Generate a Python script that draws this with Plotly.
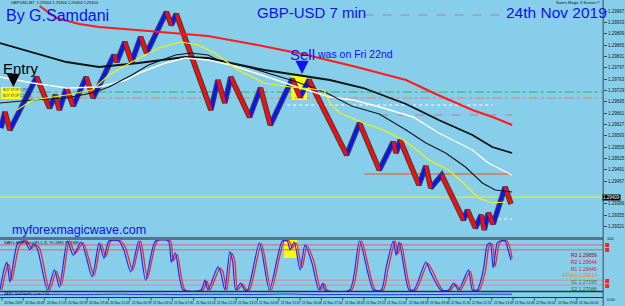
import plotly.graph_objects as go

W, H = 625, 306
def X(p): return p / W
def Y(p): return 1 - p / H

# ---------------- data ----------------
renko_bar = [1,5,10,37,50,56,60,67,74,87,94,115,118,126,133,142,148,168,173,178,
             213,220,227,233,252,263,273,295,303,312,350,363,383,397,400,404,423,430,435,446,
             468,472,480,486,489,493,498,510,516]
renko_price = [1.29616,1.29664,1.29610,1.29769,1.29676,1.29715,1.29670,1.29736,1.29682,1.29769,
               1.29706,1.29835,1.29814,1.29874,1.29814,1.29889,1.29841,1.29964,1.29925,1.29958,
               1.29670,1.29760,1.29691,1.29769,1.29649,1.29736,1.29625,1.29763,1.29709,1.29760,
               1.29535,1.29631,1.29490,1.29574,1.29541,1.29580,1.29445,1.29502,1.29436,1.29475,
               1.29340,1.29370,1.29316,1.29355,1.29310,1.29361,1.29328,1.29439,1.29388]

ma_red_bar = [40,57,80,100,150,210,260,310,360,410,440,477,500,517]
ma_red = [1.29982,1.29946,1.29928,1.29919,1.29907,1.29892,1.29865,1.29835,1.29799,1.29760,
          1.29718,1.29670,1.29646,1.29625]

ma_black_bar = [0,33,67,100,140,187,210,233,267,300,333,367,410,443,477,497,517]
ma_black = [1.29871,1.29844,1.29814,1.29799,1.29811,1.29829,1.29826,1.29811,1.29790,1.29775,
            1.29760,1.29736,1.29688,1.29640,1.29595,1.29559,1.29541]

ma_thin_bar = [0,33,67,93,110,133,150,177,193,210,220,250,300,330,355,383,410,430,450,470,487,500,517]
ma_thin = [1.29691,1.29700,1.29706,1.29721,1.29739,1.29775,1.29805,1.29835,1.29841,1.29835,
           1.29820,1.29799,1.29754,1.29721,1.29682,1.29658,1.29610,1.29571,1.29541,1.29499,
           1.29451,1.29430,1.29424]

ma_white_bar = [0,33,67,100,127,143,167,187,210,233,267,300,333,357,387,417,443,477,493,517]
ma_white = [1.29769,1.29751,1.29736,1.29739,1.29760,1.29784,1.29811,1.29826,1.29820,1.29805,
            1.29772,1.29739,1.29709,1.29700,1.29676,1.29649,1.29601,1.29550,1.29511,1.29475]

ma_yellow_bar = [17,33,67,93,110,133,160,183,200,217,240,267,293,327,333,343,367,387,407,417,
                 433,453,470,483,497,510]
ma_yellow = [1.29670,1.29700,1.29715,1.29730,1.29775,1.29814,1.29856,1.29874,1.29865,1.29841,
             1.29790,1.29751,1.29739,1.29730,1.29691,1.29661,1.29631,1.29610,1.29580,1.29559,
             1.29520,1.29490,1.29445,1.29406,1.29391,1.29394]

# horizontal levels: price, first bar, last bar
level_price = [1.29409, 1.29478, 1.29724, 1.29706, 1.29955, 1.29655, 1.29685, 1.29343]
level_from  = [0, 368, 25, 25, 368, 383, 290, 497]
level_to    = [609, 517, 609, 609, 510, 517, 497, 517]

price_ticks = [1.29967,1.29933,1.29899,1.29865,1.29831,1.29797,1.29763,1.29729,1.29695,1.29661,
               1.29627,1.29593,1.29559,1.29525,1.29491,1.29457,1.29389,1.29355,1.29321]
last_price = 1.29409

stoch_bar = [0,4,7,10,18,25,30,34,38,48,55,60,68,74,82,93,100,105,110,120,
             125,132,140,147,157,170,173,177,185,203,207,210,220,223,227,232,235,238,243,247,
             250,262,272,285,290,293,297,303,308,315,322,326,328,353,363,377,385,390,397,400,
             403,413,418,430,435,445,453,458,463,473,477,482,488,492,495,498,502,505,510,513,516]
stoch_main = [0,41,57,16,96,100,82,94,82,0,41,6,100,71,98,27,96,65,100,100,
              82,37,100,20,100,100,57,76,0,0,20,0,47,35,0,78,57,0,14,0,
              0,96,0,100,100,82,98,41,92,55,0,14,0,0,100,0,0,47,100,71,
              98,0,0,57,35,0,0,14,0,41,0,0,41,92,96,45,96,100,100,82,61]
signal_bar = [2,6,9,12,20,27,32,36,40,50,57,62,70,76,84,95,102,107,112,122,
              127,134,142,149,159,172,175,179,187,205,209,212,222,225,229,234,237,240,245,249,
              252,264,274,287,292,295,299,305,310,317,324,328,330,355,365,379,387,392,399,402,
              405,415,420,432,437,447,455,460,465,475,479,484,490,494,497,500,504,507,512,515,517]
stoch_signal = [0,38,52,20,92,100,85,92,85,0,38,10,100,75,96,30,94,68,100,100,
                85,40,100,24,100,100,60,72,0,0,18,0,44,38,0,75,60,0,12,0,
                0,94,0,100,100,85,96,45,90,58,0,12,0,0,100,0,0,44,100,74,
                96,0,0,54,38,0,0,12,0,38,0,0,38,90,94,48,94,100,100,85,65]
stoch_levels = [92, 82, 20, 10]

depth_bar = [0,15,30,45,60,80,100,120,140,160,180,200,230,260,290,320,350,380,410,440,470,500,517]
depth_val = [0.35,0.45,0.55,0.5,0.6,0.45,0.55,0.65,0.5,0.6,0.45,0.55,0.6,0.5,0.7,0.45,0.5,0.4,
             0.45,0.5,0.6,0.65,0.6]

time_labels = ["20 Nov 2019","20 Nov 16:09","20 Nov 17:23","20 Nov 18:39","20 Nov 19:40",
               "20 Nov 21:03","21 Nov 00:39","21 Nov 03:50","21 Nov 07:45","21 Nov 10:53",
               "21 Nov 12:29","21 Nov 13:23","21 Nov 14:09","21 Nov 15:07","21 Nov 16:08",
               "21 Nov 17:00","21 Nov 18:09","21 Nov 19:23","21 Nov 21:05","22 Nov 08:39",
               "22 Nov 09:46","22 Nov 11:30","22 Nov 12:35","22 Nov 13:49","22 Nov 14:46",
               "22 Nov 16:03","22 Nov 19:08","25 Nov 00:02"]

pivot_text = ["R3 1.29859","R2 1.29644","R1 1.29446","PPoint 1.29314","S1 1.27195","S2 1.27088"]
pivot_color = ["#8b1010","#c8184c","#dd2040","#ff8000","#1e8a1e","#0a7a0a"]

# ---------------- figure ----------------
FONT = "Liberation Sans, Arial, sans-serif"
fig = go.Figure()

def line(xs, ys, color, width, dash="solid", xa="x", ya="y", shape="linear"):
    ln = dict(color=color, width=width, dash=dash, shape=shape)
    if shape == "spline":
        ln["smoothing"] = 0.7
    fig.add_trace(go.Scatter(x=xs, y=ys, mode="lines", xaxis=xa, yaxis=ya,
                             line=ln, hoverinfo="skip"))

# renko path: up legs blue, down legs red
up_x, up_y, dn_x, dn_y = [], [], [], []
for i in range(len(renko_bar) - 1):
    seg_x = [renko_bar[i], renko_bar[i + 1], None]
    seg_y = [renko_price[i], renko_price[i + 1], None]
    if renko_price[i + 1] > renko_price[i]:
        up_x += seg_x; up_y += seg_y
    else:
        dn_x += seg_x; dn_y += seg_y
line(renko_bar, renko_price, "#404040", 5.5)
line(up_x, up_y, "#0a14ff", 3.2)
line(dn_x, dn_y, "#ff0a0a", 3.2)

# moving averages
line(ma_red_bar, ma_red, "#ff1a1a", 2)
line(ma_black_bar, ma_black, "#101010", 1.8)
line(ma_white_bar, ma_white, "#ffffff", 1.4)
line(ma_thin_bar, ma_thin, "#151515", 1.1)
line(ma_yellow_bar, ma_yellow, "#f4f400", 1.1)

# oscillator
line(signal_bar, stoch_signal, "#ff2020", 1.3, xa="x2", ya="y2", shape="spline")
line(stoch_bar, stoch_main, "#1a2aff", 1.2, xa="x2", ya="y2", shape="spline")
line(depth_bar, depth_val, "#1a2aff", 1.0, xa="x3", ya="y3", shape="spline")

shapes = []
# highlight boxes (below traces)
shapes.append(dict(type="rect", xref="paper", yref="paper", x0=X(294), x1=X(310), y0=Y(100), y1=Y(76),
                   fillcolor="#ffff00", line=dict(width=0), layer="below"))
shapes.append(dict(type="rect", xref="paper", yref="paper", x0=X(287), x1=X(300), y0=Y(258), y1=Y(240),
                   fillcolor="#ffff00", line=dict(width=0), layer="below"))

# horizontal levels on main chart
level_style = [("#f0f030", 1.2, "solid"), ("#ff4a10", 1.2, "solid"), ("#3cb050", 1, "dashdot"),
               ("#ff7a4a", 1, "dashdot"), ("#c07890", 1, "dash"), ("#c07890", 1, "dash"),
               ("#ffffff", 1, "dot"), ("#ffffff", 1, "dot")]
for p, a, b, st in zip(level_price, level_from, level_to, level_style):
    shapes.append(dict(type="line", xref="x", yref="y", x0=a, x1=b, y0=p, y1=p,
                       line=dict(color=st[0], width=st[1], dash=st[2]), layer="below"))

# oscillator levels
for lv, col in zip(stoch_levels, ["#d86070", "#d86070", "#c890a0", "#c890a0"]):
    shapes.append(dict(type="line", xref="paper", yref="y2", x0=0, x1=X(609), y0=lv, y1=lv,
                       line=dict(color=col, width=1), layer="below"))

# panel separators and axis line
shapes.append(dict(type="line", xref="paper", yref="paper", x0=0, x1=X(609), y0=Y(238.5), y1=Y(238.5),
                   line=dict(color="#55758c", width=3)))
shapes.append(dict(type="line", xref="paper", yref="paper", x0=0, x1=X(609), y0=Y(291.5), y1=Y(291.5),
                   line=dict(color="#25343e", width=1.5)))
shapes.append(dict(type="line", xref="paper", yref="paper", x0=0, x1=X(609), y0=Y(297.5), y1=Y(297.5),
                   line=dict(color="#25343e", width=1)))
shapes.append(dict(type="line", xref="paper", yref="paper", x0=X(609), x1=X(609), y0=0, y1=1,
                   line=dict(color="#3a4a55", width=1)))
# Entry label boxes
shapes.append(dict(type="rect", xref="paper", yref="paper", x0=X(1), x1=X(21), y0=Y(93), y1=Y(87),
                   fillcolor="#ffff20", line=dict(width=0)))
shapes.append(dict(type="rect", xref="paper", yref="paper", x0=X(1), x1=X(21), y0=Y(99), y1=Y(93.5),
                   fillcolor="#ffff20", line=dict(width=0)))
# red markers on right axis
for yy in [245, 250, 281, 286]:
    shapes.append(dict(type="rect", xref="paper", yref="paper", x0=X(611), x1=X(615), y0=Y(yy + 2), y1=Y(yy - 2),
                       fillcolor="#ff2020", line=dict(width=0)))
# time axis tick marks
for i in range(len(time_labels)):
    xx = 2 + i * 21.5
    shapes.append(dict(type="line", xref="paper", yref="paper", x0=X(xx), x1=X(xx), y0=Y(298), y1=Y(300.5),
                       line=dict(color="#25343e", width=0.8)))

ann = []
def txt(s, x, y, size, color, anchor="left", bg=None, yanchor="middle"):
    d = dict(text=s, x=X(x), y=Y(y), xref="paper", yref="paper", showarrow=False,
             xanchor=anchor, yanchor=yanchor, font=dict(family=FONT, size=size, color=color),
             borderpad=0)
    if bg:
        d["bgcolor"] = bg
    ann.append(d)

txt("By G.Samdani", 5, 15, 16, "#1010f0")
txt("GBP-USD 7 min", 258, 13, 15, "#1010f0")
txt("24th Nov 2019", 510, 13, 15.5, "#1010f0")
txt("Sell", 292, 54, 15, "#1010f0")
txt("was on Fri 22nd", 319, 54, 10.5, "#1010f0")
txt("Entry", 2, 69, 15, "#000000")
txt("myforexmagicwave.com", 11, 230, 12.5, "#1010f0")
txt("GBPUSD,M7  1.29404 1.29404 1.29404 1.29404", 10, 3, 4, "#101010")
txt("Sam's Magic 3 Screen \u00a9", 607, 3, 4, "#101010", anchor="right")
txt("BUY STOP 1.29724", 2, 90, 3.2, "#303030")
txt("BUY STOP 1.29706", 2, 96, 3.2, "#303030")
txt("SAR's HullCross(85,1,3)  91.1885 91.1885", 3, 242.5, 4, "#101010")
txt("SAR's JoinDepth(...)  mi 7.64", 3, 293.5, 3.5, "#101010")
txt("1.29409", 617, 197, 4.5, "#ffffff", anchor="center", bg="#000000")
txt("100", 612, 238, 4, "#101010")
txt("0.00", 612, 299, 4, "#101010")
for i, (s, c) in enumerate(zip(pivot_text, pivot_color)):
    txt(s, 604, 255 + i * 6.8, 5, c, anchor="right")
for i, s in enumerate(time_labels):
    txt(s, 3 + i * 21.5, 302.5, 3.3, "#101010")

# arrows
ann.append(dict(x=X(13.5), y=Y(87), xref="paper", yref="paper", ax=0, ay=-9, text="",
                showarrow=True, arrowhead=2, arrowsize=1.2, arrowwidth=2.2, arrowcolor="#000000"))
ann.append(dict(x=X(305), y=Y(74), xref="paper", yref="paper", ax=0, ay=-9, text="",
                showarrow=True, arrowhead=2, arrowsize=1.2, arrowwidth=2.2, arrowcolor="#1010f0"))

hidden = dict(visible=False, showgrid=False, zeroline=False, fixedrange=True)
fig.update_layout(
    width=W, height=H, margin=dict(l=0, r=0, t=0, b=0),
    paper_bgcolor="#87CEEB", plot_bgcolor="#87CEEB", showlegend=False,
    xaxis=dict(domain=[0, X(609)], range=[0, 609], anchor="y", **hidden),
    xaxis2=dict(domain=[0, X(609)], range=[0, 609], anchor="y2", **hidden),
    xaxis3=dict(domain=[0, X(609)], range=[0, 609], anchor="y3", **hidden),
    yaxis=dict(domain=[Y(236), 1], range=[1.29292, 1.30000], side="right", anchor="x",
               showgrid=False, zeroline=False, showline=False, ticks="outside", ticklen=3,
               tickcolor="#3a4a55", tickvals=price_ticks, tickformat=".5f",
               tickfont=dict(family=FONT, size=4.5, color="#1a1a1a"), fixedrange=True),
    yaxis2=dict(domain=[Y(291), Y(240)], range=[-2.04, 102.04], anchor="x2", **hidden),
    yaxis3=dict(domain=[Y(297), Y(292)], range=[-0.5, 1.5], anchor="x3", **hidden),
    shapes=shapes, annotations=ann,
)

fig.write_html("out.html")
